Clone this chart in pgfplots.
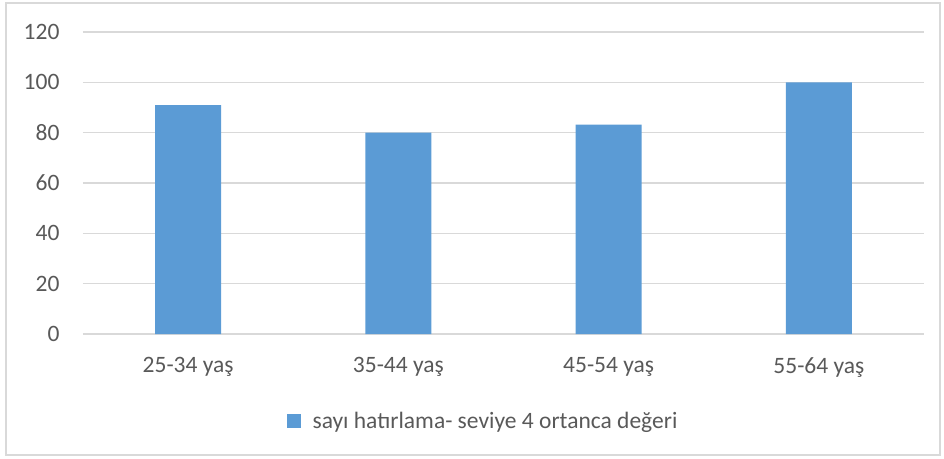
\documentclass[border=0pt]{standalone}
\usepackage{pgfplots}
\pgfplotsset{compat=1.18}
\usepackage{fontspec}
\setmainfont{Carlito}
\definecolor{barblue}{HTML}{5B9BD5}
\definecolor{gridgray}{HTML}{D9D9D9}
\definecolor{textgray}{HTML}{595959}
\begin{document}
\begin{tikzpicture}
\useasboundingbox (-83pt,-124pt) rectangle (861pt,334pt);
\draw[gridgray, line width=1.5pt] (-77pt,-121pt) rectangle (857pt,331pt);
\begin{axis}[
  at={(0pt,0pt)}, anchor=south west,
  scale only axis,
  width=841pt, height=302pt,
  xmin=-0.5, xmax=3.5,
  ymin=0, ymax=120,
  ytick={0,20,...,120},
  xtick=data,
  xticklabels={25-34 yaş,35-44 yaş,45-54 yaş,55-64 yaş},
  axis line style={draw=none},
  axis x line*=bottom,
  axis y line*=left,
  x axis line style={draw=gridgray, line width=1.2pt},
  ymajorgrids,
  grid style={gridgray, line width=1.2pt},
  major tick length=0pt,
  tick style={draw=none},
  ybar, bar width=66pt,
  every tick label/.append style={font=\fontsize{23.5}{26}\selectfont, text=textgray},
  /pgf/number format/assume math mode=true,
  yticklabel style={xshift=-20pt},
  xticklabel style={yshift=-20pt},
  legend style={
    at={(0.4756,-0.288)}, anchor=center,
    draw=none, fill=none,
    font=\fontsize{23.5}{26}\selectfont, text=textgray,
    /tikz/every even column/.append style={column sep=0pt},
  },
  legend image code/.code={
    \fill[barblue] (0pt,-7pt) rectangle (14pt,7pt);
    \path (24pt,0pt);
  },
]
\addplot[fill=barblue, draw=none] coordinates {(0,90.9) (1,80) (2,83.2) (3,100)};
\addlegendentry{sayı hatırlama- seviye 4 ortanca değeri}
\end{axis}
\end{tikzpicture}
\end{document}
